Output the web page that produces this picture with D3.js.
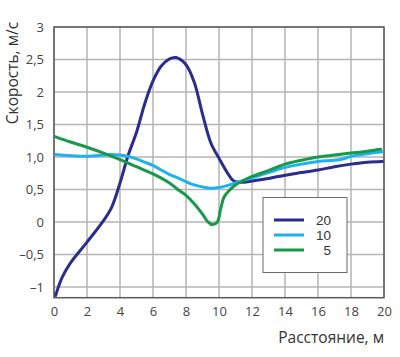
<!DOCTYPE html>
<html><head><meta charset="utf-8">
<script src="https://cdn.jsdelivr.net/npm/d3@7"></script>
<style>html,body{margin:0;padding:0;background:#fff;}svg{display:block;}</style>
</head><body>
<svg id="chart" width="400" height="357"></svg>
<script>
const seriesNames = ["20", "10", "5"];
const seriesColors = ["#2a2d8c", "#1cb3ec", "#17994a"];
const s20 = [[0.1,-1.13],[0.5,-0.85],[1.0,-0.63],[2.0,-0.31],[3.0,0.02],[3.5,0.23],[4.0,0.6],[4.5,1.03],[5.0,1.38],[5.5,1.82],[6.0,2.17],[6.5,2.40],[7.0,2.51],[7.4,2.53],[8.0,2.42],[8.5,2.15],[9.0,1.66],[9.5,1.22],[10.0,0.98],[10.5,0.76],[10.9,0.63],[11.5,0.61],[12.0,0.63],[13.0,0.67],[14.0,0.72],[15.0,0.76],[16.0,0.80],[17.0,0.85],[18.0,0.89],[19.0,0.92],[19.9,0.93]];
const s10 = [[0.1,1.04],[1.0,1.02],[2.0,1.01],[3.0,1.03],[3.5,1.04],[4.0,1.03],[4.5,1.01],[5.0,0.97],[5.5,0.92],[6.0,0.87],[6.5,0.80],[7.0,0.73],[7.5,0.68],[8.0,0.62],[8.5,0.57],[9.0,0.54],[9.5,0.52],[10.0,0.53],[10.5,0.56],[11.0,0.60],[11.5,0.64],[12.0,0.68],[13.0,0.76],[14.0,0.84],[15.0,0.89],[16.0,0.93],[17.0,0.95],[17.5,0.97],[18.0,1.01],[19.0,1.05],[19.9,1.08]];
const s5 = [[0.1,1.31],[1.0,1.23],[2.0,1.15],[3.0,1.06],[4.0,0.96],[5.0,0.85],[6.0,0.74],[7.0,0.60],[7.5,0.50],[8.0,0.41],[8.5,0.28],[9.0,0.12],[9.3,0.01],[9.6,-0.04],[9.9,0.0],[10.1,0.2],[10.3,0.38],[10.6,0.48],[11.0,0.57],[11.5,0.64],[12.0,0.70],[13.0,0.79],[14.0,0.89],[15.0,0.95],[16.0,1.00],[17.0,1.03],[18.0,1.06],[19.0,1.09],[19.8,1.12]];
const xTicks = [0,2,4,6,8,10,12,14,16,18,20];
const yTicks = [3,2.5,2,1.5,1,0.5,0,-0.5,-1];
const yTickLabels = ["3","2,5","2","1,5","1,0","0,5","0","–0,5","–1"];
const xTitle = "Расстояние, м";
const yTitle = "Скорость, м/с";

const svg = d3.select("#chart");
const font = "'Open Sans', 'Noto Sans', sans-serif";
const legendFont = "'Liberation Sans', Arial, sans-serif";
const x = d3.scaleLinear().domain([0,20]).range([54,384]);
const y = d3.scaleLinear().domain([-1.165,3]).range([297.7,27]);

// grid
const g = svg.append("g");
g.selectAll("line.vx").data(xTicks).enter().append("line")
  .attr("x1", d=>x(d)).attr("x2", d=>x(d)).attr("y1", y(3)).attr("y2", y(-1.165))
  .attr("stroke", "#b5b5b5").attr("stroke-width", 1.5);
g.selectAll("line.hy").data(yTicks).enter().append("line")
  .attr("x1", x(0)).attr("x2", x(20)).attr("y1", d=>y(d)).attr("y2", d=>y(d))
  .attr("stroke", "#b5b5b5").attr("stroke-width", 1.5);
// frame
svg.append("rect").attr("x", x(0)).attr("y", y(3)).attr("width", x(20)-x(0)).attr("height", y(-1.165)-y(3))
  .attr("fill","none").attr("stroke","#5a5a5a").attr("stroke-width",1.5);

// axes labels
const xAxis = d3.axisBottom(x).tickValues(xTicks).tickSize(0).tickPadding(0);
const xa = svg.append("g").attr("transform", `translate(0,${y(-1.165)})`).call(xAxis);
xa.select(".domain").remove();
xa.selectAll("text").attr("font-family", font).attr("font-size", 13).attr("fill", "#444").attr("dy", "0").attr("y", 18);

const yAxis = d3.axisLeft(y).tickValues(yTicks).tickFormat((d,i)=>yTickLabels[i]).tickSize(0).tickPadding(0);
const ya = svg.append("g").attr("transform", `translate(44,0)`).call(yAxis);
ya.select(".domain").remove();
ya.selectAll("text").attr("font-family", font).attr("font-size", 13).attr("fill", "#444").attr("x", 0);

// titles
svg.append("text").attr("x", 384).attr("y", 343).attr("text-anchor","end")
  .attr("font-family", font).attr("font-size", 15.5).attr("fill","#333").text(xTitle);
svg.append("text").attr("transform","translate(18,73) rotate(-90)").attr("text-anchor","middle")
  .attr("font-family", font).attr("font-size", 15.5).attr("fill","#333").text(yTitle);

// lines
const line = d3.line().x(d=>x(d[0])).y(d=>y(d[1])).curve(d3.curveCatmullRom.alpha(0.5));
const data = [s20, s10, s5];
[0,1,2].forEach(i=>{
  svg.append("path").datum(data[i]).attr("d", line).attr("fill","none")
    .attr("stroke", seriesColors[i]).attr("stroke-width", 3).attr("stroke-linecap","round");
});

// legend
const lg = svg.append("g");
lg.append("rect").attr("x", 263).attr("y", 197.5).attr("width", 84).attr("height", 75)
  .attr("fill","#fff").attr("stroke","#6a6a6a").attr("stroke-width",1);
seriesNames.forEach((n,i)=>{
  const yy = 220 + i*15;
  lg.append("line").attr("x1",274).attr("x2",304).attr("y1",yy).attr("y2",yy)
    .attr("stroke", seriesColors[i]).attr("stroke-width",3);
  lg.append("text").attr("x",331).attr("y",yy+5).attr("text-anchor","end")
    .attr("font-family", legendFont).attr("font-size",13.5).attr("fill","#333").text(n);
});
</script>
</body></html>
